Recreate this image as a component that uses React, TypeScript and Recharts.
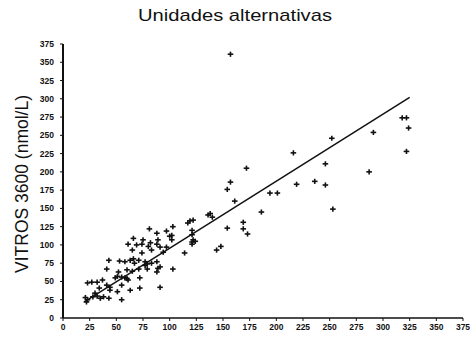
import React from 'react';
import { ScatterChart, Scatter, XAxis, YAxis } from 'recharts';

// ticks shared by both axes
const axisTicks = [0, 25, 50, 75, 100, 125, 150, 175, 200, 225, 250, 275, 300, 325, 350, 375];

// reference method (x) vs VITROS 3600 (y), nmol/L
const refValues = [
  22, 23, 21, 28, 32, 35, 38, 43, 30, 34,
  23, 27, 32, 37, 41, 44, 44, 51, 55, 55,
  63, 72, 91, 49, 51, 55, 58, 60, 61, 72,
  41, 52, 65, 60, 71, 79, 88, 89, 103, 91,
  43, 53, 58, 63, 66, 71, 77, 79, 83, 77,
  67, 88, 65, 74, 83, 94, 114, 74, 80, 88,
  91, 97, 61, 69, 82, 66, 75, 89, 102, 122,
  100, 102, 88, 81, 97, 103, 117, 119, 122, 121,
  121, 121, 124, 121,
  136, 140, 138, 144, 148, 154, 169, 169, 173, 161,
  154, 157, 172, 186, 194, 201, 219, 216, 236, 246,
  246, 252, 253, 287, 291, 318, 322, 324, 322, 157,
];
const vitrosValues = [
  22, 25, 28, 29, 30, 27, 29, 27, 34, 41,
  48, 49, 49, 52, 45, 42, 38, 36, 45, 25,
  38, 41, 42, 55, 57, 56, 55, 54, 52, 55,
  67, 63, 64, 66, 67, 67, 63, 68, 67, 70,
  79, 78, 77, 79, 81, 79, 77, 74, 75, 72,
  75, 77, 93, 89, 93, 90, 89, 101, 98, 101,
  97, 97, 101, 100, 103, 109, 107, 107, 107, 107,
  112, 113, 116, 122, 119, 125, 130, 133, 134, 120,
  114, 104, 105, 101,
  141, 138, 143, 93, 98, 123, 131, 122, 115, 160,
  176, 186, 205, 145, 171, 171, 183, 226, 187, 182,
  211, 246, 149, 200, 254, 274, 274, 260, 228, 361,
];

// regression line end points
const fitX = [20, 325];
const fitY = [22, 302];

const points = refValues.map((x, i) => ({ x, y: vitrosValues[i] }));
const fitLine = fitX.map((x, i) => ({ x, y: fitY[i] }));

const font = '"Liberation Sans", Arial, sans-serif';
const tickStyle = { fontSize: 8.5, fontWeight: 700, fill: '#111', fontFamily: font };

const Cross = (props: any) => {
  const { cx, cy } = props;
  if (cx == null || cy == null) return <g />;
  return (
    <g stroke="#111" strokeWidth={1.6}>
      <line x1={cx - 2.8} y1={cy} x2={cx + 2.8} y2={cy} />
      <line x1={cx} y1={cy - 2.6} x2={cx} y2={cy + 2.6} />
    </g>
  );
};

export default function App() {
  return (
    <div style={{ position: 'absolute', left: 0, top: 0, width: 475, height: 338, background: '#fff' }}>
      <ScatterChart width={475} height={338} margin={{ top: 44, right: 12, bottom: 0, left: 20 }}>
        <XAxis
          type="number"
          dataKey="x"
          domain={[0, 375]}
          ticks={axisTicks}
          interval={0}
          height={20}
          tick={tickStyle}
          tickSize={3}
          tickMargin={3}
          axisLine={{ stroke: '#111', strokeWidth: 1.5 }}
          tickLine={{ stroke: '#111' }}
        />
        <YAxis
          type="number"
          dataKey="y"
          domain={[0, 375]}
          ticks={axisTicks}
          interval={0}
          width={43}
          tick={tickStyle}
          tickSize={3}
          tickMargin={6}
          axisLine={{ stroke: '#111', strokeWidth: 2 }}
          tickLine={{ stroke: '#111' }}
        />
        <Scatter data={points} shape={<Cross />} isAnimationActive={false} />
        <Scatter
          data={fitLine}
          line={{ stroke: '#111', strokeWidth: 1.5 }}
          shape={() => <g />}
          isAnimationActive={false}
        />
      </ScatterChart>
      <svg width={475} height={338} style={{ position: 'absolute', left: 0, top: 0, pointerEvents: 'none' }}>
        <text
          x={235}
          y={21}
          textAnchor="middle"
          fontSize={17}
          fontFamily={font}
          fill="#111"
          textLength={194}
          lengthAdjust="spacingAndGlyphs"
        >
          Unidades alternativas
        </text>
        <text
          x={28}
          y={184}
          textAnchor="middle"
          fontSize={17.5}
          fontFamily={font}
          fill="#111"
          transform="rotate(-90, 28, 184)"
        >
          VITROS 3600 (nmol/L)
        </text>
      </svg>
    </div>
  );
}
